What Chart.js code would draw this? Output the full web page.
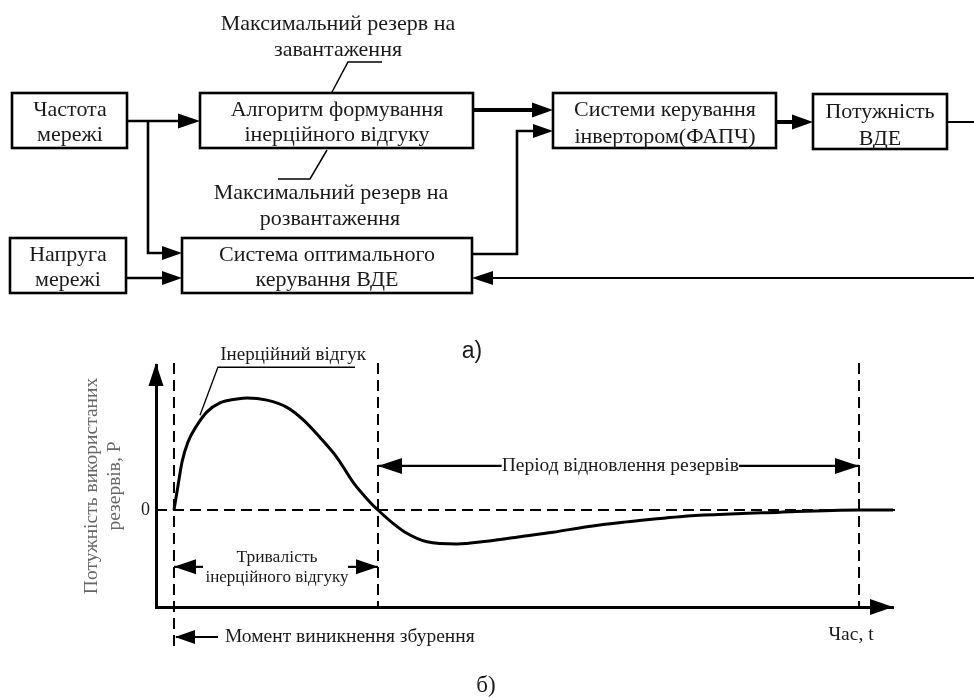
<!DOCTYPE html>
<html>
<head>
<meta charset="utf-8">
<script src="https://cdn.jsdelivr.net/npm/chart.js@4/dist/chart.umd.min.js"></script>
<style>
html,body{margin:0;padding:0;background:#fff;}
#wrap{position:relative;width:974px;height:697px;overflow:hidden;background:#fff;}
#c{position:absolute;left:0;top:0;}
#diag{position:absolute;left:0;top:0;}
#diag text{font-family:"Liberation Serif",serif;fill:#1a1a1a;}
</style>
</head>
<body>
<div id="wrap">
<canvas id="c" width="974" height="697"></canvas>
<svg id="diag" width="974" height="697" viewBox="0 0 974 697">
  <!-- blocks -->
  <g fill="none" stroke="#000" stroke-width="2.6">
    <rect x="12" y="93" width="115" height="55"/>
    <rect x="200" y="93" width="273" height="55"/>
    <rect x="10" y="238" width="116" height="55"/>
    <rect x="182" y="238" width="290" height="55"/>
    <rect x="553" y="93" width="223" height="55"/>
    <rect x="813" y="94" width="134" height="55"/>
  </g>
  <!-- connections -->
  <g fill="none" stroke="#000" stroke-width="2.6">
    <polyline points="127,121 185,121"/>
    <polyline points="148,121 148,253 168,253"/>
    <polyline points="126,278 168,278"/>
    <polyline points="473,110 538,110" stroke-width="4"/>
    <polyline points="472,254 517,254 517,131 538,131"/>
    <polyline points="776,122 798,122" stroke-width="4"/>
    <polyline points="947,122 974,122" stroke-width="2"/>
    <polyline points="974,278 486,278" stroke-width="2.2"/>
  </g>
  <g fill="#000">
    <polygon points="200,121 178,113.5 178,128.5"/>
    <polygon points="182,253 162,246 162,260"/>
    <polygon points="182,278 162,271 162,285"/>
    <polygon points="553,110 532,102.5 532,117.5"/>
    <polygon points="553,131 533,124 533,138"/>
    <polygon points="813,122 792,114.5 792,129.5"/>
    <polygon points="472,278 493,271 493,285"/>
  </g>
  <!-- leader lines -->
  <g fill="none" stroke="#000" stroke-width="1.5">
    <polyline points="382,62 348,62 332,92"/>
    <polyline points="327,150 310,179 278,179"/>
  </g>
  <g font-size="22" text-anchor="middle" dominant-baseline="central">
    <text x="338" y="22">Максимальний резерв на</text>
    <text x="338" y="48">завантаження</text>
    <text x="331" y="191">Максимальний резерв на</text>
    <text x="330" y="217">розвантаження</text>
    <text x="70" y="108">Частота</text>
    <text x="70" y="133">мережі</text>
    <text x="337" y="108">Алгоритм формування</text>
    <text x="337" y="133">інерційного відгуку</text>
    <text x="68" y="253">Напруга</text>
    <text x="68" y="278">мережі</text>
    <text x="327" y="253">Система оптимального</text>
    <text x="327" y="278">керування ВДЕ</text>
    <text x="665" y="108">Системи керування</text>
    <text x="665" y="135">інвертором(ФАПЧ)</text>
    <text x="880" y="110">Потужність</text>
    <text x="880" y="137">ВДЕ</text>
    <text x="472" y="350" font-size="23" style="font-family:'Liberation Sans',sans-serif">а)</text>
    <text x="486" y="684" font-size="23">б)</text>
  </g>
</svg>
</div>
<script>
// ---- data (time in arbitrary units, power in units of the peak) ----
const timeValues  = [2.44, 2.99, 3.53, 4.34, 5.56, 6.92, 8.68, 10.99, 12.35, 15.06, 17.77, 19.95, 22.25, 24.56, 26.73, 29.04, 30.12, 32.16, 33.79, 36.77, 40.84, 44.91, 49.39, 53.87, 58.48, 63.37, 71.10, 84.67, 95.39, 100];
const powerValues = [0, 0.22, 0.43, 0.61, 0.76, 0.88, 0.96, 0.995, 1.005, 0.985, 0.92, 0.81, 0.65, 0.47, 0.25, 0.07, 0, -0.12, -0.20, -0.285, -0.305, -0.28, -0.24, -0.20, -0.15, -0.11, -0.06, -0.02, 0, 0];
// moments: disturbance, end of inertial response, end of reserve recovery
const markerTimes = [2.44, 30.12, 95.39];
const yTickValues = [0];
const yTickLabels = ['0'];
const yAxisTitle = ['Потужність використаних', 'резервів, Р'];
const xAxisTitle = 'Час, t';
const labelInertia = 'Інерційний відгук';
const labelDuration = ['Тривалість', 'інерційного відгуку'];
const labelRecovery = 'Період відновлення резервів';
const labelMoment = 'Момент виникнення збурення';

const SERIF = '"Liberation Serif", serif';

function head(ctx, x, y, dir, len, half) {
  ctx.beginPath();
  if (dir === 'right') { ctx.moveTo(x, y); ctx.lineTo(x - len, y - half); ctx.lineTo(x - len, y + half); }
  if (dir === 'left')  { ctx.moveTo(x, y); ctx.lineTo(x + len, y - half); ctx.lineTo(x + len, y + half); }
  if (dir === 'up')    { ctx.moveTo(x, y); ctx.lineTo(x - half, y + len); ctx.lineTo(x + half, y + len); }
  ctx.closePath();
  ctx.fill();
}
function line(ctx, x1, y1, x2, y2) {
  ctx.beginPath(); ctx.moveTo(x1, y1); ctx.lineTo(x2, y2); ctx.stroke();
}

const guidePlugin = {
  id: 'guides',
  beforeDatasetsDraw(chart) {
    const {ctx, chartArea: a, scales: {x, y}} = chart;
    ctx.save();
    ctx.strokeStyle = '#000';
    ctx.lineWidth = 2;
    ctx.setLineDash([11, 6]);
    const y0 = y.getPixelForValue(0);
    line(ctx, a.left, y0, a.right + 2, y0);
    markerTimes.forEach((t, i) => {
      const px = x.getPixelForValue(t);
      line(ctx, px, a.top - 2, px, i === 0 ? a.bottom + 45 : a.bottom);
    });
    ctx.restore();
  },
  afterDraw(chart) {
    const {ctx, chartArea: a, scales: {x, y}} = chart;
    ctx.save();
    ctx.fillStyle = '#000';
    ctx.strokeStyle = '#000';
    // axis arrows
    head(ctx, a.left, a.top - 2, 'up', 23, 7.5);
    head(ctx, a.right, a.bottom, 'right', 23, 8);

    const m0 = x.getPixelForValue(markerTimes[0]);
    const m1 = x.getPixelForValue(markerTimes[1]);
    const m2 = x.getPixelForValue(markerTimes[2]);

    // inertial response label + leader
    ctx.fillStyle = '#1a1a1a';
    ctx.font = '19px ' + SERIF;
    ctx.textAlign = 'center';
    ctx.textBaseline = 'middle';
    ctx.fillText(labelInertia, x.getPixelForValue(18.6), y.getPixelForValue(1.39));
    ctx.lineWidth = 1.3;
    const ly = y.getPixelForValue(1.28);
    ctx.beginPath();
    ctx.moveTo(x.getPixelForValue(27.0), ly);
    ctx.lineTo(x.getPixelForValue(8.4), ly);
    ctx.lineTo(x.getPixelForValue(5.97), y.getPixelForValue(0.85));
    ctx.stroke();

    // duration of inertial response
    ctx.fillStyle = '#000';
    ctx.lineWidth = 2.2;
    const dy = y.getPixelForValue(-0.51);
    line(ctx, m0, dy, m0 + 29, dy);
    line(ctx, m1 - 30, dy, m1, dy);
    head(ctx, m0, dy, 'left', 22, 7.5);
    head(ctx, m1, dy, 'right', 22, 7.5);
    ctx.fillStyle = '#1a1a1a';
    const mid = (m0 + m1) / 2 + 1;
    ctx.font = '17.5px ' + SERIF;
    ctx.fillText(labelDuration[0], mid, dy - 9);
    ctx.font = '17px ' + SERIF;
    ctx.fillText(labelDuration[1], mid, dy + 11);

    // recovery period
    ctx.font = '19.5px ' + SERIF;
    const ry = y.getPixelForValue(0.395);
    const rc = x.getPixelForValue(63);
    const rw = ctx.measureText(labelRecovery).width;
    ctx.fillText(labelRecovery, rc, ry);
    ctx.fillStyle = '#000';
    ctx.lineWidth = 2.2;
    line(ctx, m1, ry, rc - rw / 2, ry);
    line(ctx, rc + rw / 2, ry, m2, ry);
    head(ctx, m1, ry, 'left', 24, 8);
    head(ctx, m2, ry, 'right', 24, 8);

    // moment of disturbance
    const by = a.bottom + 30;
    line(ctx, m0 + 2, by, m0 + 44, by);
    head(ctx, m0 + 1, by, 'left', 20, 7);
    ctx.fillStyle = '#1a1a1a';
    ctx.textAlign = 'left';
    ctx.font = '19.5px ' + SERIF;
    ctx.fillText(labelMoment, m0 + 51, by);

    // time axis title
    ctx.textAlign = 'center';
    ctx.fillText(xAxisTitle, x.getPixelForValue(94.3), a.bottom + 28);
    ctx.restore();
  }
};

new Chart(document.getElementById('c'), {
  type: 'line',
  data: {
    datasets: [{
      data: timeValues.map((t, i) => ({x: t, y: powerValues[i]})),
      borderColor: '#000',
      borderWidth: 3,
      pointRadius: 0,
      fill: false,
      cubicInterpolationMode: 'monotone'
    }]
  },
  options: {
    responsive: false,
    animation: false,
    devicePixelRatio: 1,
    layout: {padding: {left: 70, right: 81, top: 365, bottom: 90}},
    plugins: {legend: {display: false}, tooltip: {enabled: false}, title: {display: false}},
    scales: {
      x: {
        type: 'linear', min: 0, max: 100,
        grid: {display: false, drawTicks: false},
        border: {display: true, width: 3, color: '#000'},
        ticks: {display: false},
        afterFit(s) { s.height = 0; }
      },
      y: {
        type: 'linear', min: -0.87, max: 1.3,
        grid: {display: false, drawTicks: false},
        border: {display: true, width: 3, color: '#000'},
        afterBuildTicks(s) { s.ticks = yTickValues.map(v => ({value: v})); },
        ticks: {
          color: '#1a1a1a', padding: 6,
          font: {family: 'Liberation Serif', size: 18},
          callback: (v) => yTickLabels[yTickValues.indexOf(v)] ?? ''
        },
        title: {
          display: true, text: yAxisTitle, color: '#666',
          font: {family: 'Liberation Serif', size: 19.5, lineHeight: 1.2},
          padding: {top: 10, bottom: 0}
        },
        afterFit(s) { s.width = 86; }
      }
    }
  },
  plugins: [guidePlugin]
});
</script>
</body>
</html>
